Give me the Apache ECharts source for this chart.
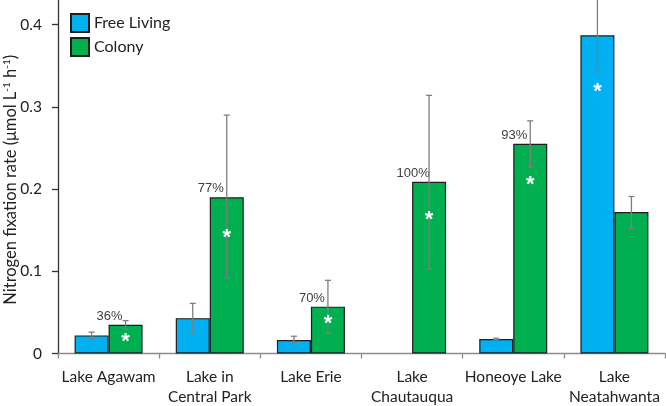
<!DOCTYPE html>
<html>
<head>
<meta charset="utf-8">
<script src="https://cdn.jsdelivr.net/npm/echarts@6/dist/echarts.min.js"></script>
<style>
html, body { margin: 0; padding: 0; background: #fff; }
#chart { width: 666px; height: 406px; }
</style>
</head>
<body>
<div id="chart"></div>
<script>
const categories = ['Lake Agawam', 'Lake in\nCentral Park', 'Lake Erie', 'Lake\nChautauqua', 'Honeoye Lake', 'Lake\nNeatahwanta'];
const freeLiving = [0.022, 0.043, 0.0165, null, 0.0177, 0.387];
const colony = [0.035, 0.19, 0.057, 0.209, 0.255, 0.172];
const freeLow = [0.018, 0.026, 0.013, null, 0.0168, 0.345];
const freeHigh = [0.026, 0.061, 0.021, null, 0.0186, 0.431];
const colonyLow = [0.0295, 0.092, 0.0246, 0.103, 0.227, 0.152];
const colonyHigh = [0.040, 0.290, 0.089, 0.314, 0.283, 0.191];
const pctLabels = ['36%', '77%', '70%', '100%', '93%', ''];
const starFree = [null, null, null, null, null, 0.323];
const starColony = [0.019, 0.146, 0.041, 0.167, 0.21, null];
const yTicks = [0, 0.1, 0.2, 0.3, 0.4];

const BAR_W = 34;
const axisFont = 'Lato, "Open Sans", sans-serif';

function errData(low, high) {
  return low.map((l, i) => (l == null ? [i, null, null] : [i, l, high[i]]));
}
function starData(arr) {
  return arr.map((v, i) => [i, v]);
}

function errRender(side) {
  return function (params, api) {
    if (api.value(1) == null || isNaN(api.value(1))) return;
    const idx = api.value(0);
    const lo = api.coord([idx, api.value(1)]);
    const hi = api.coord([idx, api.value(2)]);
    const x = lo[0] + side * BAR_W / 2;
    const st = { stroke: '#7f7f7f', lineWidth: 1.3 };
    return {
      type: 'group',
      children: [
        { type: 'line', shape: { x1: x, y1: lo[1], x2: x, y2: hi[1] }, style: st },
        { type: 'line', shape: { x1: x - 3, y1: lo[1], x2: x + 3, y2: lo[1] }, style: st },
        { type: 'line', shape: { x1: x - 3, y1: hi[1], x2: x + 3, y2: hi[1] }, style: st }
      ]
    };
  };
}

function starRender(side) {
  return function (params, api) {
    if (api.value(1) == null || isNaN(api.value(1))) return;
    const p = api.coord([api.value(0), api.value(1)]);
    return {
      type: 'text',
      x: p[0] + side * BAR_W / 2,
      y: p[1] + 4,
      style: {
        text: '*',
        fill: '#ffffff',
        fontSize: 22,
        fontWeight: 'bold',
        fontFamily: 'Liberation Sans, Arial, sans-serif',
        align: 'center',
        verticalAlign: 'middle'
      }
    };
  };
}

const chart = echarts.init(document.getElementById('chart'));
chart.setOption({
  animation: false,
  grid: { left: 58, right: 1, top: 0, bottom: 52.5, containLabel: false, outerBoundsMode: 'none' },
  legend: {
    orient: 'vertical',
    left: 70,
    top: 13,
    padding: 0,
    itemWidth: 18,
    itemHeight: 18,
    itemGap: 4,
    icon: 'rect',
    data: ['Free Living', 'Colony'],
    textStyle: { fontFamily: axisFont, fontSize: 16, color: '#222' }
  },
  xAxis: {
    type: 'category',
    data: categories,
    axisLine: { lineStyle: { color: '#8c8c8c', width: 1.3 } },
    axisTick: { show: true, length: 5, lineStyle: { color: '#8c8c8c', width: 1.3 } },
    axisLabel: { fontFamily: axisFont, fontSize: 15.5, color: '#222', margin: 13, lineHeight: 20, interval: 0 }
  },
  yAxis: {
    type: 'value',
    min: 0,
    max: 0.43,
    interval: 0.1,
    name: 'Nitrogen fixation rate (μmol L{s|-1} h{s|-1})',
    nameLocation: 'middle',
    nameGap: 39,
    nameMoveOverlap: false,
    nameTextStyle: {
      fontFamily: axisFont,
      fontSize: 16.5,
      color: '#222',
      padding: [0, 6, 0, 0],
      rich: {
        s: { fontFamily: axisFont, fontSize: 10, color: '#222', padding: [0, 0, 7, 0] }
      }
    },
    splitLine: { show: false },
    axisLine: { show: true, lineStyle: { color: '#333', width: 1.3 } },
    axisTick: { show: true, length: 6, customValues: yTicks, lineStyle: { color: '#333', width: 1.3 } },
    axisLabel: {
      customValues: yTicks,
      fontFamily: axisFont,
      fontSize: 15.5,
      color: '#222',
      margin: 16,
      formatter: v => String(v)
    }
  },
  series: [
    {
      name: 'Free Living',
      type: 'bar',
      data: freeLiving,
      barWidth: BAR_W,
      barGap: '0%',
      itemStyle: { color: '#00b0f0', borderColor: '#1e1e1e', borderWidth: 1.2 }
    },
    {
      name: 'Colony',
      type: 'bar',
      data: colony,
      barWidth: BAR_W,
      barGap: '0%',
      itemStyle: { color: '#00b050', borderColor: '#1e1e1e', borderWidth: 1.2 },
      label: {
        show: true,
        position: 'top',
        distance: 2,
        offset: [-16, 0],
        formatter: p => pctLabels[p.dataIndex],
        fontFamily: 'Liberation Sans, Arial, sans-serif',
        fontSize: 13,
        color: '#404040'
      }
    },
    { type: 'custom', data: errData(freeLow, freeHigh), renderItem: errRender(-1), z: 5, silent: true },
    { type: 'custom', data: errData(colonyLow, colonyHigh), renderItem: errRender(1), z: 5, silent: true },
    { type: 'custom', data: starData(starFree), renderItem: starRender(-1), z: 6, silent: true },
    { type: 'custom', data: starData(starColony), renderItem: starRender(1), z: 6, silent: true }
  ]
});
</script>
</body>
</html>
